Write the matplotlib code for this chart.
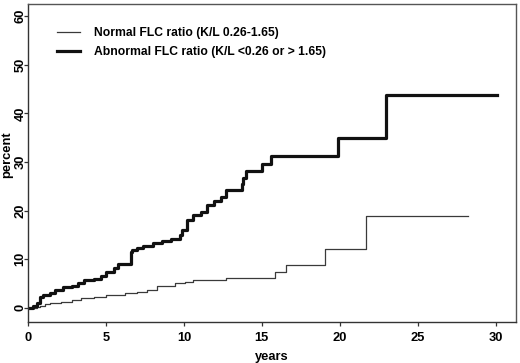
import matplotlib
matplotlib.use("Agg")
import matplotlib.pyplot as plt

# step curves: (years, percent) at each step
normal_years = [0, 0.55, 0.75, 1.1, 1.4, 2.1, 2.8, 3.4, 4.2, 5.0, 6.2, 7.0, 7.6,
                8.3, 9.4, 10.1, 10.6, 12.7, 15.85, 16.56, 19.06, 21.7, 28.2]
normal_pct = [0, 0.1, 0.4, 0.75, 1.1, 1.3, 1.6, 2.0, 2.3, 2.7, 3.0, 3.3, 3.6,
              4.6, 5.1, 5.4, 5.7, 6.2, 7.3, 8.8, 12.1, 18.85, 18.85]

abnormal_years = [0, 0.3, 0.55, 0.75, 0.95, 1.4, 1.7, 2.25, 2.8, 3.2, 3.6, 4.2,
                  4.7, 5.0, 5.5, 5.8, 6.6, 6.7, 7.0, 7.4, 8.0, 8.6, 9.2, 9.75,
                  9.9, 10.2, 10.6, 11.1, 11.5, 11.9, 12.4, 12.7, 13.7, 13.8,
                  14.0, 15.0, 15.6, 19.86, 23.0, 30.1]
abnormal_pct = [0, 0.4, 1.0, 2.3, 2.7, 3.0, 3.7, 4.2, 4.6, 5.1, 5.7, 6.0,
                6.6, 7.4, 8.1, 9.1, 11.5, 12.0, 12.4, 12.8, 13.3, 13.8, 14.1, 15.0,
                16.0, 18.0, 19.0, 19.7, 21.1, 22.0, 22.8, 24.3, 25.5, 26.8,
                28.2, 29.6, 31.3, 34.9, 43.85, 43.85]

x_ticks = [0, 5, 10, 15, 20, 25, 30]
y_ticks = [0, 10, 20, 30, 40, 50, 60]
labels = ["Normal FLC ratio (K/L 0.26-1.65)",
          "Abnormal FLC ratio (K/L <0.26 or > 1.65)"]

plt.rcParams["font.family"] = ["Liberation Sans", "DejaVu Sans"]
plt.rcParams["font.weight"] = "bold"
fs = 8.7
tick_fs = 9.3

fig = plt.figure(figsize=(5.2, 3.63), dpi=100)
ax = fig.add_axes([0.054, 0.113, 0.938, 0.876])

ax.step(normal_years, normal_pct, where="post", color="#3a3a3a", lw=0.9,
        label=labels[0])
ax.step(abnormal_years, abnormal_pct, where="post", color="#111111", lw=2.3,
        label=labels[1])

ax.set_xlim(0, 31.3)
ax.set_ylim(-2.9, 62.5)
ax.set_xticks(x_ticks)
ax.set_yticks(y_ticks)
ax.tick_params(axis="both", direction="out", length=3, width=0.9,
               labelsize=tick_fs, color="#333333")
ax.tick_params(axis="x", pad=4)
ax.tick_params(axis="y", pad=-2)
for lab in ax.get_yticklabels():
    lab.set_rotation(90)
    lab.set_va("center")
for lab in ax.get_xticklabels() + ax.get_yticklabels():
    lab.set_fontweight("bold")

for side in ["left", "bottom"]:
    ax.spines[side].set_color("#333333")
    ax.spines[side].set_linewidth(1.0)
for side in ["top", "right"]:
    ax.spines[side].set_color("#555555")
    ax.spines[side].set_linewidth(1.0)

ax.set_xlabel("years", fontsize=tick_fs, fontweight="bold")
ax.set_ylabel("percent", fontsize=tick_fs, fontweight="bold")
ax.xaxis.set_label_coords(0.5, -0.09)
ax.yaxis.set_label_coords(-0.031, 0.525)

ax.legend(loc="upper left", bbox_to_anchor=(0.059, 0.927), frameon=False,
          borderpad=0, borderaxespad=0, handlelength=1.95, handletextpad=1.1,
          labelspacing=0.55, prop={"weight": "bold", "size": fs})

fig.savefig("out.png", dpi=100)
